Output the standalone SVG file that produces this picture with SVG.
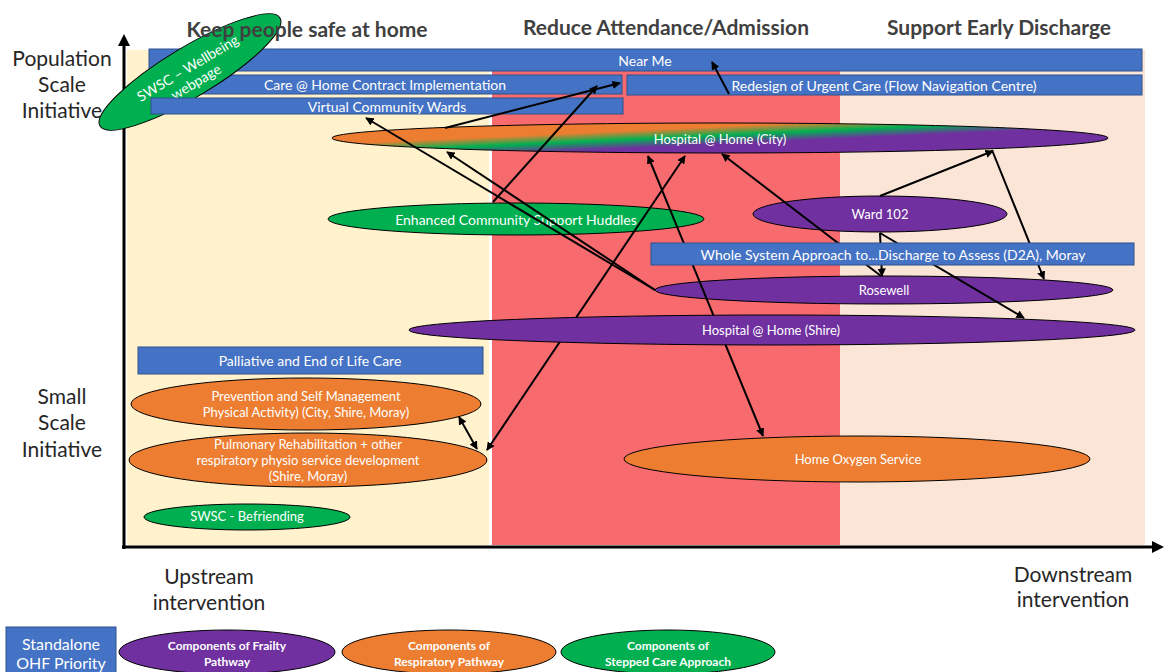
<svg xmlns="http://www.w3.org/2000/svg" width="1165" height="672" viewBox="0 0 1165 672">
<defs>
<style>
.bar{fill:#4472C4;stroke:#2F528F;stroke-width:1}
.t{font-family:Lato,"Open Sans","Liberation Sans",sans-serif;fill:#fff;text-anchor:middle;dominant-baseline:central}
.s14{font-size:14px}
.s13{font-size:13px}
.lg{font-size:12px;font-weight:bold}
.ax{font-family:Lato,"Open Sans","Liberation Sans",sans-serif;font-size:21px;fill:#262626;text-anchor:middle}
.hd{font-family:Lato,"Open Sans","Liberation Sans",sans-serif;font-size:21px;font-weight:bold;fill:#404040;text-anchor:middle}
.el{stroke:#000;stroke-width:1}
.pu{fill:#7030A0}
.or{fill:#ED7D31}
.gr{fill:#00B050}
.cn{stroke:#000;stroke-width:2;fill:none;marker-end:url(#ah)}
.cn2{stroke:#000;stroke-width:2;fill:none;marker-end:url(#ah);marker-start:url(#ah)}
</style>
<marker id="ah" viewBox="0 0 10 10" refX="9" refY="5" markerWidth="4.2" markerHeight="4.2" orient="auto-start-reverse"><path d="M0,0 L10,5 L0,10 z" fill="#000"/></marker>
<marker id="axh" viewBox="0 0 10 10" refX="5" refY="5" markerWidth="4" markerHeight="4" orient="auto"><path d="M0,0 L10,5 L0,10 z" fill="#000"/></marker>
<linearGradient id="hcity" gradientUnits="userSpaceOnUse" x1="660" y1="116" x2="662" y2="160">
<stop offset="0" stop-color="#ED7D31"/>
<stop offset="0.3" stop-color="#ED7D31"/>
<stop offset="0.5" stop-color="#00B050"/>
<stop offset="0.7" stop-color="#7030A0"/>
<stop offset="1" stop-color="#7030A0"/>
</linearGradient>
</defs>
<rect width="1165" height="672" fill="#fff"/>
<g id="bands">
<rect x="127" y="50" width="362" height="495" fill="#FFF2CC"/>
<rect x="492" y="50" width="348" height="495" fill="#F76B6E"/>
<rect x="840" y="50" width="305" height="495" fill="#FBE5D6"/>
</g>
<g id="axes">
<line x1="124" y1="549" x2="124" y2="40" stroke="#000" stroke-width="3" marker-end="url(#axh)"/>
<line x1="122" y1="547" x2="1158" y2="547" stroke="#000" stroke-width="3" marker-end="url(#axh)"/>
</g>
<g id="near-me"><rect class="bar" x="149" y="49" width="993" height="22"/><text class="t s14" x="645" y="60">Near Me</text></g>
<g id="care-home"><rect class="bar" x="150" y="75" width="472" height="19"/><text class="t s14" x="385" y="84">Care @ Home Contract Implementation</text></g>
<g id="redesign"><rect class="bar" x="627" y="75" width="515" height="20"/><text class="t s14" x="884" y="85">Redesign of Urgent Care (Flow Navigation Centre)</text></g>
<g id="swsc-wellbeing" transform="translate(190,72) rotate(-31)">
<ellipse class="el gr" cx="0" cy="0" rx="105" ry="25"/>
<text class="t s14" x="0" y="-5">SWSC – Wellbeing</text>
<text class="t s14" x="0" y="11">webpage</text>
</g>
<g id="virtual-wards"><rect class="bar" x="151" y="98" width="472" height="16"/><text class="t s14" x="387" y="106">Virtual Community Wards</text></g>
<g id="headings">
<text class="hd" x="307" y="37">Keep people safe at home</text>
<text class="hd" x="666" y="35">Reduce Attendance/Admission</text>
<text class="hd" x="999" y="35">Support Early Discharge</text>
</g>
<g id="axis-labels">
<text class="ax" x="62" y="66">Population</text>
<text class="ax" x="62" y="92">Scale</text>
<text class="ax" x="62" y="118">Initiative</text>
<text class="ax" x="62" y="404">Small</text>
<text class="ax" x="62" y="430">Scale</text>
<text class="ax" x="62" y="457">Initiative</text>
<text class="ax" x="209" y="584">Upstream</text>
<text class="ax" x="209" y="610">intervention</text>
<text class="ax" x="1073" y="582">Downstream</text>
<text class="ax" x="1073" y="607">intervention</text>
</g>
<g id="hospital-city"><ellipse class="el" cx="720" cy="138" rx="388" ry="15" fill="url(#hcity)"/><text class="t s13" x="720" y="139">Hospital @ Home (City)</text></g>
<g id="huddles"><ellipse class="el gr" cx="516" cy="219" rx="188" ry="16"/><text class="t s14" x="516" y="219">Enhanced Community Support Huddles</text></g>
<g id="ward102"><ellipse class="el pu" cx="880" cy="214" rx="127" ry="18"/><text class="t s13" x="880" y="214">Ward 102</text></g>
<g id="rosewell"><ellipse class="el pu" cx="884" cy="290" rx="229" ry="14"/><text class="t s13" x="884" y="290">Rosewell</text></g>
<g id="palliative"><rect class="bar" x="138" y="347" width="345" height="27"/><text class="t s14" x="310" y="360">Palliative and End of Life Care</text></g>
<g id="prevention"><ellipse class="el or" cx="306" cy="404" rx="175" ry="26"/><text class="t s13" x="306" y="396">Prevention and Self Management</text><text class="t s13" x="306" y="412">Physical Activity) (City, Shire, Moray)</text></g>
<g id="pulmonary"><ellipse class="el or" cx="308" cy="460" rx="179" ry="27"/><text class="t s13" x="308" y="444">Pulmonary Rehabilitation + other</text><text class="t s13" x="308" y="460">respiratory physio service development</text><text class="t s13" x="308" y="476">(Shire, Moray)</text></g>
<g id="befriending"><ellipse class="el gr" cx="247" cy="517" rx="103" ry="13"/><text class="t s13" x="247" y="516">SWSC - Befriending</text></g>
<g id="home-oxygen"><ellipse class="el or" cx="857" cy="459" rx="233" ry="23"/><text class="t s13" x="858" y="459">Home Oxygen Service</text></g>
<g id="connectors">
<line class="cn" x1="445" y1="128" x2="620" y2="83"/>
<line class="cn" x1="493" y1="202" x2="597" y2="86"/>
<line class="cn" x1="655" y1="290" x2="366" y2="118"/>
<line class="cn" x1="655" y1="290" x2="447" y2="152"/>
<line class="cn2" x1="648" y1="156" x2="763" y2="436"/>
<line class="cn2" x1="685" y1="156" x2="487" y2="450"/>
<line class="cn2" x1="459" y1="417" x2="477" y2="449"/>
<line class="cn" x1="881" y1="276" x2="722" y2="154"/>
<line class="cn" x1="880" y1="196" x2="993" y2="151"/>
<line class="cn" x1="992" y1="150" x2="1044" y2="279"/>
<line class="cn" x1="880" y1="233" x2="882" y2="276"/>
<line class="cn" x1="880" y1="233" x2="1024" y2="318"/>
<line class="cn" x1="729" y1="94" x2="712" y2="62"/>
</g>
<g id="whole-system"><rect class="bar" x="651" y="243" width="483" height="22"/><text class="t s14" x="893" y="254">Whole System Approach to...Discharge to Assess (D2A), Moray</text></g>
<g id="hospital-shire"><ellipse class="el pu" cx="772" cy="330" rx="363" ry="15"/><text class="t s13" x="771" y="330">Hospital @ Home (Shire)</text></g>
<g id="legend">
<g id="legend-standalone"><rect class="bar" x="6" y="627" width="110" height="50"/><text class="t" style="font-size:16px" x="61" y="643">Standalone</text><text class="t" style="font-size:16px" x="61" y="662">OHF Priority</text></g>
<g id="legend-frailty"><ellipse class="el pu" cx="227" cy="652" rx="108" ry="22"/><text class="t lg" x="227" y="645">Components of Frailty</text><text class="t lg" x="227" y="661">Pathway</text></g>
<g id="legend-respiratory"><ellipse class="el or" cx="449" cy="652" rx="107" ry="22"/><text class="t lg" x="449" y="645">Components of</text><text class="t lg" x="449" y="661">Respiratory  Pathway</text></g>
<g id="legend-stepped"><ellipse class="el gr" cx="668" cy="652" rx="107" ry="22"/><text class="t lg" x="668" y="645">Components of</text><text class="t lg" x="668" y="661">Stepped Care Approach</text></g>
</g>
</svg>
